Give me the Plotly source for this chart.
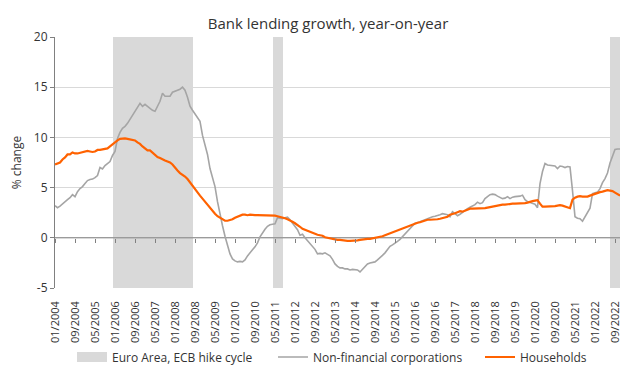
import pandas as pd
import plotly.graph_objects as go

# ---------------- data ----------------
months = [p.strftime("%m/%Y") for p in pd.period_range("2004-01", "2022-11", freq="M")]

households = [
    # 2004
    7.3, 7.4, 7.5, 7.8, 8.0, 8.3, 8.3, 8.5, 8.4, 8.4, 8.45, 8.5,
    # 2005
    8.6, 8.65, 8.6, 8.55, 8.6, 8.75, 8.75, 8.8, 8.8, 8.9, 9.1, 9.3,
    # 2006
    9.55, 9.7, 9.85, 9.9, 9.9, 9.85, 9.8, 9.75, 9.7, 9.5, 9.35, 9.1,
    # 2007
    8.85, 8.7, 8.7, 8.45, 8.2, 8.05, 7.95, 7.8, 7.7, 7.6, 7.5, 7.3,
    # 2008
    6.95, 6.7, 6.45, 6.3, 6.1, 5.85, 5.5, 5.2, 4.85, 4.5, 4.2, 3.9,
    # 2009
    3.6, 3.25, 2.95, 2.6, 2.4, 2.15, 2.0, 1.8, 1.7, 1.7, 1.75, 1.85,
    # 2010
    2.0, 2.1, 2.2, 2.3, 2.3, 2.25, 2.3, 2.25, 2.25, 2.25, 2.25, 2.25,
    # 2011
    2.2, 2.2, 2.2, 2.2, 2.2, 2.15, 2.1, 2.0, 1.95, 1.85, 1.75, 1.6,
    # 2012
    1.45, 1.3, 1.1, 0.9, 0.8, 0.65, 0.55, 0.45, 0.4, 0.3, 0.25, 0.2,
    # 2013
    0.05, 0.0, -0.1, -0.1, -0.15, -0.2, -0.2, -0.25, -0.25, -0.3, -0.3, -0.3,
    # 2014
    -0.3, -0.25, -0.2, -0.15, -0.1, -0.1, -0.1, -0.05, 0.0, 0.0, 0.1, 0.15,
    # 2015
    0.25, 0.35, 0.45, 0.55, 0.65, 0.75, 0.85, 0.95, 1.05, 1.15, 1.25, 1.35,
    # 2016
    1.4, 1.5, 1.55, 1.65, 1.7, 1.8, 1.8, 1.8, 1.85, 1.85, 1.9, 1.95,
    # 2017
    2.0, 2.1, 2.3, 2.35, 2.45, 2.55, 2.65, 2.6, 2.7, 2.8, 2.9, 2.9,
    # 2018
    2.9, 2.95, 2.9, 2.95, 2.95, 3.0, 3.05, 3.1, 3.2, 3.2, 3.25, 3.3,
    # 2019
    3.3, 3.35, 3.35, 3.4, 3.4, 3.4, 3.45, 3.45, 3.45, 3.5, 3.6, 3.65,
    # 2020
    3.7, 3.75, 3.4, 3.1, 3.1, 3.1, 3.1, 3.1, 3.15, 3.2, 3.25, 3.2,
    # 2021
    3.1, 3.0, 2.95, 3.8, 4.0, 4.1, 4.15, 4.1, 4.1, 4.1, 4.2, 4.3,
    # 2022
    4.35, 4.45, 4.55, 4.6, 4.65, 4.75, 4.7, 4.65, 4.5, 4.35, 4.2,
]

nfc = [
    # 2004
    3.2, 3.0, 3.15, 3.4, 3.6, 3.8, 4.0, 4.3, 4.1, 4.6, 4.9, 5.1,
    # 2005
    5.4, 5.7, 5.8, 5.85, 6.0, 6.2, 7.0, 6.85, 7.2, 7.4, 7.6, 8.2,
    # 2006
    8.6, 9.9, 10.5, 10.9, 11.1, 11.4, 11.8, 12.2, 12.6, 12.95, 13.4, 13.1,
    # 2007
    13.3, 13.1, 12.85, 12.7, 12.6, 13.1, 13.6, 14.4, 14.1, 14.1, 14.1, 14.5,
    # 2008
    14.6, 14.75, 14.8, 15.0, 14.7, 14.0, 13.1, 12.7, 12.3, 12.0, 11.6, 10.2,
    # 2009
    9.3, 8.3, 6.9, 5.9, 5.1, 3.6, 2.3, 1.2, 0.15, -0.8, -1.6, -2.1,
    # 2010
    -2.3, -2.4, -2.35, -2.4, -2.2, -1.8, -1.55, -1.2, -0.9, -0.5, 0.1, 0.5,
    # 2011
    0.85, 1.15, 1.3, 1.35, 1.4, 2.0, 1.95, 1.9, 2.0, 2.05, 1.8, 1.5,
    # 2012
    1.1, 0.8, 0.25, 0.35, 0.0, -0.3, -0.65, -0.9, -1.15, -1.6, -1.55, -1.6,
    # 2013
    -1.5, -1.65, -1.8, -2.15, -2.6, -2.85, -3.0, -3.0, -3.1, -3.1, -3.2, -3.15,
    # 2014
    -3.15, -3.2, -3.4, -3.1, -2.9, -2.6, -2.5, -2.45, -2.4, -2.2, -2.0, -1.75,
    # 2015
    -1.5, -1.2, -0.85, -0.7, -0.55, -0.35, -0.15, 0.1, 0.4, 0.6, 0.85, 1.15,
    # 2016
    1.45, 1.5, 1.6, 1.7, 1.8, 1.9, 2.05, 2.1, 2.15, 2.2, 2.3, 2.4,
    # 2017
    2.35, 2.3, 2.1, 2.6, 2.4, 2.2, 2.35, 2.55, 2.7, 2.9, 3.05, 3.2,
    # 2018
    3.3, 3.55, 3.4, 3.5, 3.9, 4.1, 4.3, 4.35, 4.3, 4.15, 4.0, 3.9,
    # 2019
    3.95, 4.1, 3.9, 4.05, 4.1, 4.1, 4.15, 4.25, 3.8, 3.6, 3.5, 3.45,
    # 2020
    3.35, 3.0, 5.4, 6.6, 7.4, 7.25, 7.2, 7.2, 7.15, 6.9, 7.15, 7.1,
    # 2021
    7.0, 7.1, 7.05, 4.7, 2.1, 1.95, 1.9, 1.65, 2.1, 2.5, 2.95, 4.4,
    # 2022
    4.45, 4.55, 4.9, 5.5, 5.9, 6.45, 7.45, 8.1, 8.8, 8.85, 8.85,
]

hike_starts = ["12/2005", "04/2011", "07/2022"]
hike_ends = ["07/2008", "07/2011", "11/2022"]

tick_labels = months[::8]
y_ticks = [-5, 0, 5, 10, 15, 20]

# ---------------- derived ----------------
idx = list(range(len(months)))
hike_x = [months.index(s) for s in hike_starts]
hike_w = [months.index(e) - months.index(s) + 1 for s, e in zip(hike_starts, hike_ends)]
tick_vals = [months.index(t) for t in tick_labels]

ORANGE = "#FF6200"
GREY = "#A5A5A5"
SHADE = "#D9D9D9"
AXIS = "#808080"
TEXT = "#333333"
FONT = "Open Sans"

# the page body adds an 8px offset; the figure is sized to fit the 640x385 window
W, H = 632, 377

fig = go.Figure()

fig.add_trace(go.Bar(
    x=hike_x, y=[25] * len(hike_x), base=[-5] * len(hike_x),
    width=hike_w, offset=0,
    marker=dict(color=SHADE, line=dict(width=0)),
    name="Euro Area, ECB hike cycle", hoverinfo="skip", showlegend=False,
))
# legend proxy for the shaded periods (wide box symbol)
fig.add_trace(go.Scatter(
    x=[None], y=[None], mode="lines", name="Euro Area, ECB hike cycle",
    line=dict(color=SHADE, width=10), hoverinfo="skip", legend="legend",
))

# zero reference line (spans the month index range)
fig.add_trace(go.Scatter(
    x=[idx[0], idx[-1]], y=[0, 0], mode="lines",
    line=dict(color=AXIS, width=1), showlegend=False, hoverinfo="skip",
))

fig.add_trace(go.Scatter(
    x=idx, y=nfc, mode="lines", name="Non-financial corporations",
    line=dict(color=GREY, width=1.6), legend="legend2",
))
fig.add_trace(go.Scatter(
    x=idx, y=households, mode="lines", name="Households",
    line=dict(color=ORANGE, width=2.2), legend="legend3",
))

# dummy trace so the tick-only axis at y=0 is drawn
fig.add_trace(go.Scatter(
    x=[idx[0]], y=[0], xaxis="x2", mode="markers",
    marker=dict(size=1, opacity=0), showlegend=False, hoverinfo="skip",
))

def legend_at(x_px):
    return dict(orientation="h", xref="container", x=x_px / W, xanchor="left",
                yref="container", y=1 - 349 / H, yanchor="middle",
                font=dict(size=12, color=TEXT, family=FONT), itemwidth=30,
                bgcolor="rgba(0,0,0,0)", borderwidth=0)

fig.update_layout(
    template="none",
    width=W, height=H,
    margin=dict(l=47, r=20, t=29, b=96.5, autoexpand=False),
    paper_bgcolor="white", plot_bgcolor="white",
    font=dict(family=FONT, color=TEXT, size=11),
    title=dict(text="Bank lending growth, year-on-year", x=320 / W, xref="container",
               xanchor="center", y=1 - 15.5 / H, yref="container", yanchor="middle",
               font=dict(size=15, color=TEXT, family=FONT)),
    bargap=0,
    showlegend=True,
    legend=legend_at(64),
    legend2=legend_at(265),
    legend3=legend_at(472),
    xaxis=dict(range=[0, len(months) - 1], tickmode="array", tickvals=tick_vals,
               ticktext=tick_labels, tickangle=-90, ticks="", showgrid=False,
               zeroline=False, showline=False, automargin=False,
               tickfont=dict(size=11, color=TEXT), ticklabelstandoff=10),
    xaxis2=dict(overlaying="x", matches="x", anchor="free", position=0.2,
                tickmode="array", tickvals=tick_vals, ticks="outside", ticklen=4,
                tickcolor=AXIS, tickwidth=1, showticklabels=False, showgrid=False,
                zeroline=False, showline=False, automargin=False),
    yaxis=dict(range=[-5, 20], tickmode="array", tickvals=y_ticks,
               ticktext=[str(v) for v in y_ticks], showgrid=True, gridcolor=SHADE,
               gridwidth=1, zeroline=False, showline=True, linecolor=AXIS,
               linewidth=1, ticks="outside", ticklen=4, tickcolor=AXIS,
               automargin=False, tickfont=dict(size=12, color=TEXT),
               title=dict(text="% change", font=dict(size=12, color=TEXT), standoff=12)),
)

fig.write_html("out.html")
